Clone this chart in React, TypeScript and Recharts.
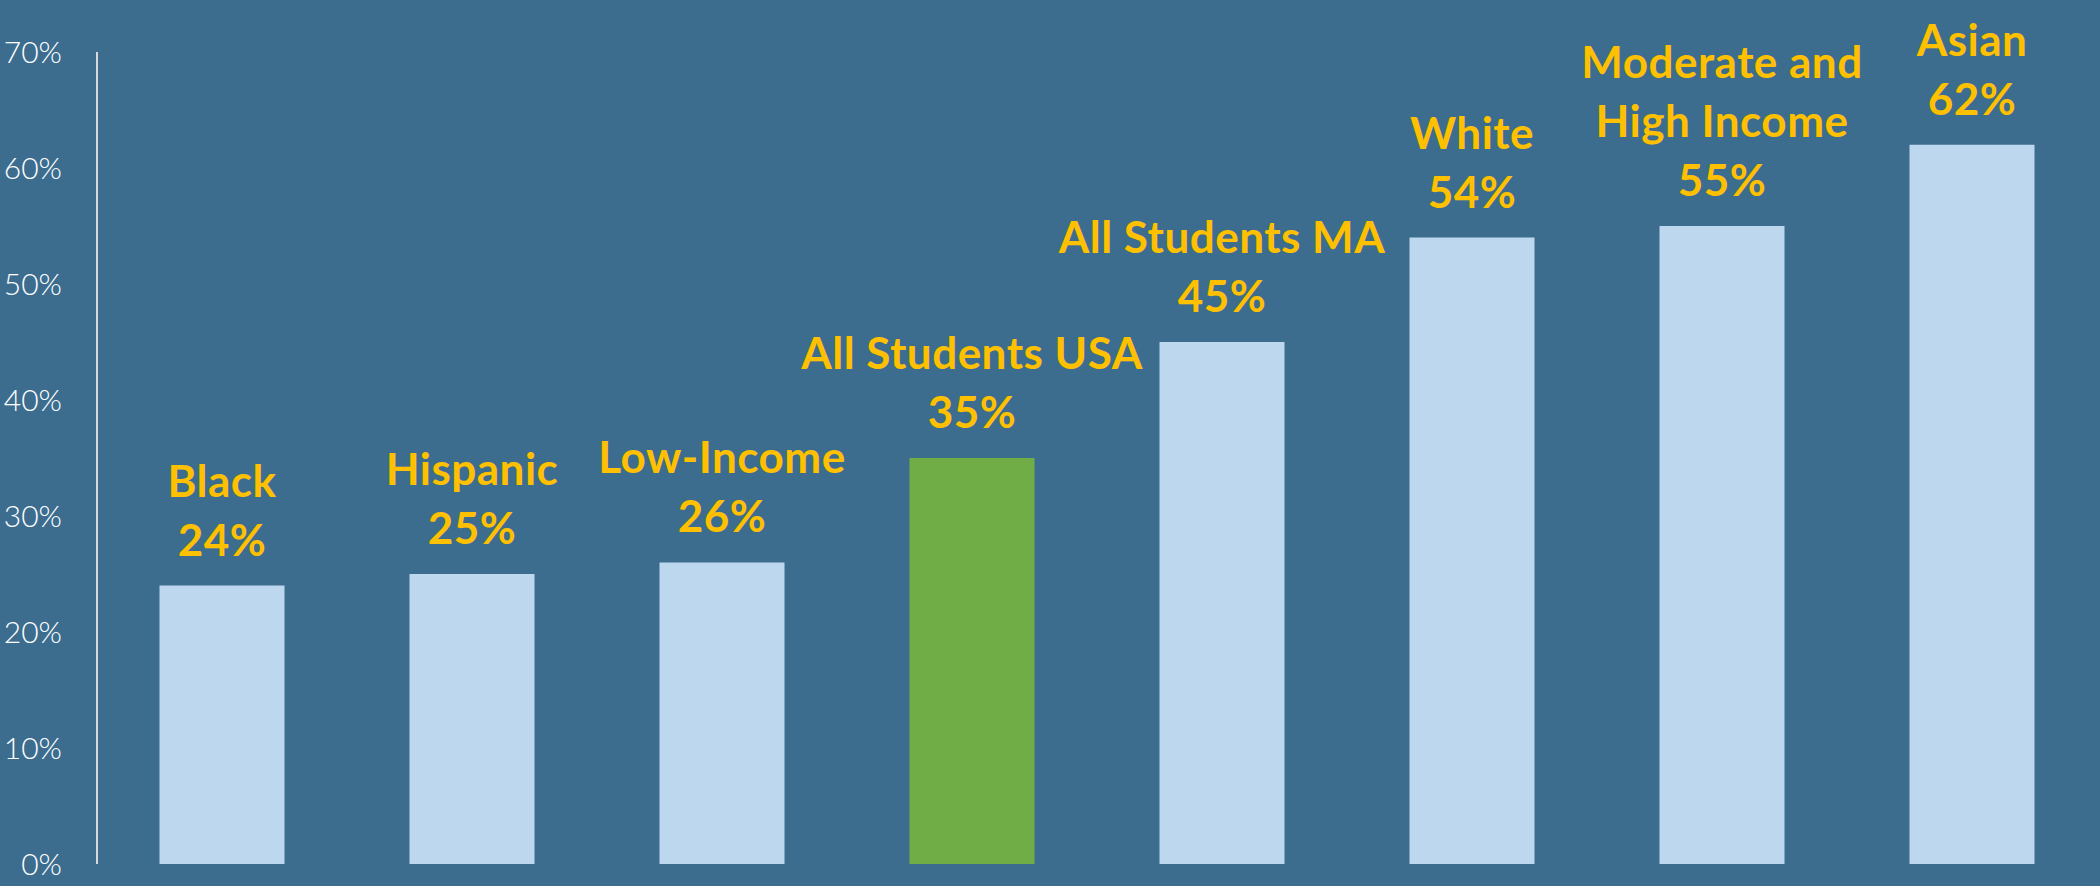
import React from 'react';
import { BarChart, Bar, XAxis, YAxis, Cell } from 'recharts';

const categories = ['Black', 'Hispanic', 'Low-Income', 'All Students USA', 'All Students MA', 'White', 'Moderate and\nHigh Income', 'Asian'];
const values = [24, 25, 26, 35, 45, 54, 55, 62];
const highlight = [false, false, false, true, false, false, false, false];
const yTicks = [0, 10, 20, 30, 40, 50, 60, 70];

const data = categories.map((c, i) => ({ name: c, value: values[i], hl: highlight[i] }));

const BG = '#3C6D8F';
const BAR = '#BDD7EE';
const GREEN = '#70AD47';
const GOLD = '#FFC000';

const BarLabel = (props: any) => {
  const { x, y, width, index } = props;
  const d = data[index];
  const lines = [...d.name.split('\n'), `${d.value}%`];
  const cx = x + width / 2;
  const lh = 59;
  const last = y - 30;
  return (
    <g>
      {lines.map((l, i) => (
        <text
          key={i}
          x={cx}
          y={last - (lines.length - 1 - i) * lh}
          textAnchor="middle"
          fill={GOLD}
          fontFamily="Lato, 'Open Sans', sans-serif"
          fontWeight={700}
          fontSize={44}
          letterSpacing={0.5}
        >
          {l}
        </text>
      ))}
    </g>
  );
};

export default function App() {
  return (
    <div style={{ position: 'absolute', left: 0, top: 0, width: 2100, height: 886, background: BG }}>
      <BarChart
        width={2100}
        height={886}
        data={data}
        margin={{ top: 52, right: 3, bottom: 22, left: 0 }}
        barCategoryGap="25%"
      >
        <XAxis
          dataKey="name"
          tick={false}
          tickLine={false}
          height={0}
          axisLine={{ stroke: '#D9D9D9', strokeWidth: 2 }}
        />
        <YAxis
          width={97}
          domain={[0, 70]}
          ticks={yTicks}
          interval={0}
          tickFormatter={(v: number) => `${v}%`}
          tickLine={false}
          tickSize={0}
          tickMargin={35}
          axisLine={{ stroke: '#D9D9D9', strokeWidth: 2 }}
          tick={{ fill: '#FFFFFF', fontSize: 30, fontFamily: "Lato, 'Open Sans', sans-serif", fontWeight: 300 }}
        />
        <Bar dataKey="value" isAnimationActive={false} label={<BarLabel />}>
          {data.map((d, i) => (
            <Cell key={i} fill={d.hl ? GREEN : BAR} />
          ))}
        </Bar>
      </BarChart>
    </div>
  );
}
